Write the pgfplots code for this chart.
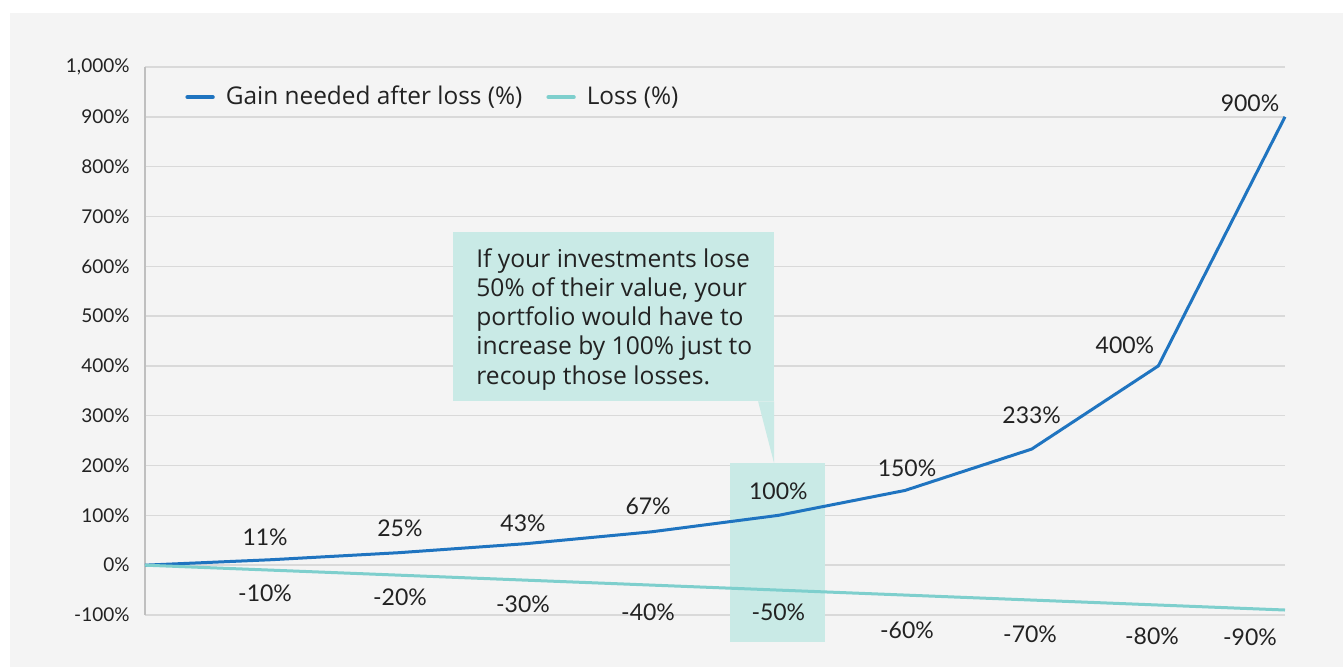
\documentclass[border=0pt]{standalone}
\usepackage{fontspec}
\setmainfont{Lato}
\newfontfamily\wideFont{Open Sans}
\usepackage{pgfplots}
\pgfplotsset{compat=1.18}
\usepackage{pgfplotstable}
\definecolor{gainc}{HTML}{1F74C0}
\definecolor{lossc}{HTML}{7ECFCD}
\definecolor{boxc}{HTML}{C9EAE6}
\definecolor{panel}{HTML}{F4F4F4}
\definecolor{gridc}{HTML}{D9D9D9}
\definecolor{txt}{HTML}{222222}

\pgfplotstableread{
x gain gdx gdy loss ldx ldy
0 0 0 0 0 0 0
1 11 -3.3 11.2 -10 -3.3 -11.5
2 25 0.8 12.2 -20 0.8 -11
3 43 -1 10.3 -30 -1 -12
4 67 -1.8 12.8 -40 -1.8 -13.5
5 100 0 12.1 -50 0 -11
6 150 1 11.2 -60 1 -17.5
7 233 0 17 -70 -0.8 -17
8 400 -16.7 10.4 -80 -3.2 -15.5
9 900 -17.5 7 -90 -17.5 -13.5
}\datatable

\begin{document}
\begin{tikzpicture}
\useasboundingbox (-72.5pt,-26pt) rectangle (599pt,307.5pt);
\fill[white] (-72.5pt,-26pt) rectangle (599pt,307.5pt);
\fill[panel] (-67.5pt,-26pt) rectangle (599pt,301pt);
\begin{axis}[
  scale only axis, width=570pt, height=274pt,
  xmin=0, xmax=9, ymin=-100, ymax=1000,
  axis x line=none, axis y line*=left,
  y axis line style={color=black!25, line width=0.6pt, -},
  xtick=\empty,
  ytick={-100,0,100,200,300,400,500,600,700,800,900,1000},
  yticklabels={-100\%,0\%,100\%,200\%,300\%,400\%,500\%,600\%,700\%,800\%,900\%,{1,000\%}},
  ymajorgrids, grid style={gridc, line width=0.75pt},
  major tick length=0pt,
  yticklabel style={font=\fontsize{9.5}{11}\selectfont, text=txt, inner sep=0pt, anchor=east, xshift=-7.5pt},
  clip=false,
  legend style={at={(axis description cs:0.0351,0.945)}, anchor=west, draw=none, fill=none, inner sep=0pt,
    font=\wideFont\fontsize{12.2}{14}\selectfont, text=txt, legend columns=2,
    nodes={inner sep=0pt},
    /tikz/every odd column/.append style={column sep=5.5pt},
    /tikz/every even column/.append style={column sep=12pt}},
  legend cell align=left,
  legend image code/.code={\draw[#1, line width=2.2pt, line cap=round] (0pt,0pt) -- (12.5pt,0pt);},
]
\fill[boxc] (axis cs:2.432,668) rectangle (axis cs:4.966,329);
\fill[boxc] (axis cs:4.84,329) -- (axis cs:4.966,329) -- (axis cs:4.966,205) -- cycle;
\fill[boxc] (axis cs:4.618,205) rectangle (axis cs:5.368,-154.5);
\node[anchor=north west, inner sep=0pt, align=left, font=\wideFont\fontsize{12.3}{14.65}\selectfont, text=txt]
  at (axis cs:2.613,637) {If your investments lose\\50\% of their value, your\\portfolio would have to\\increase by 100\% just to\\recoup those losses.};

\addplot[gainc, line width=1.5pt] table[x=x, y=gain]{\datatable};
\addlegendentry{Gain needed after loss (\%)}
\addplot[lossc, line width=1.5pt] table[x=x, y=loss]{\datatable};
\addlegendentry{Loss (\%)}

\addplot[draw=none, forget plot, nodes near coords={\pgfplotspointmeta\%}, point meta=explicit symbolic,
  visualization depends on={\thisrow{gdx} \as \dx},
  visualization depends on={\thisrow{gdy} \as \dy},
  every node near coord/.append style={anchor=center, xshift=\dx pt, yshift=\dy pt, font=\fontsize{11.5}{13}\selectfont, text=txt}]
  table[x=x, y=gain, meta=gain, skip coords between index={0}{1}]{\datatable};
\addplot[draw=none, forget plot, nodes near coords={\pgfplotspointmeta\%}, point meta=explicit symbolic,
  visualization depends on={\thisrow{ldx} \as \dx},
  visualization depends on={\thisrow{ldy} \as \dy},
  every node near coord/.append style={anchor=center, xshift=\dx pt, yshift=\dy pt, font=\fontsize{11.5}{13}\selectfont, text=txt}]
  table[x=x, y=loss, meta=loss, skip coords between index={0}{1}]{\datatable};
\end{axis}
\end{tikzpicture}
\end{document}
